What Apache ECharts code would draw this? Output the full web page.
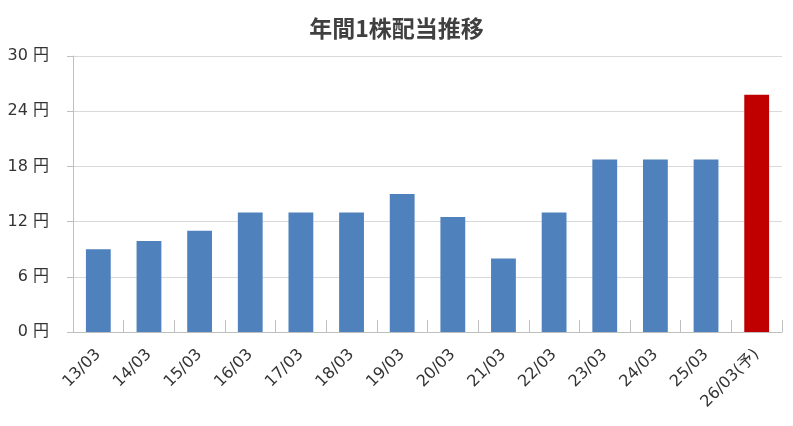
<!DOCTYPE html>
<html><head><meta charset="utf-8">
<script src="https://cdn.jsdelivr.net/npm/echarts@6/dist/echarts.min.js"></script>
<style>html,body{margin:0;padding:0;background:#fff}#c{width:793px;height:426px}</style>
</head><body><div id="c"></div>
<script>
var titleText = '年間1株配当推移';
var categories = ['13/03','14/03','15/03','16/03','17/03','18/03','19/03','20/03','21/03','22/03','23/03','24/03','25/03','26/03(予)'];
var dividends = [9, 9.9, 11, 13, 13, 13, 15, 12.5, 8, 13, 18.75, 18.75, 18.75, 25.8];
var forecastIndex = [13];
var yTicks = [0, 6, 12, 18, 24, 30];

var chart = echarts.init(document.getElementById('c'), null, {renderer:'canvas'});
var font = '"DejaVu Sans","Noto Sans CJK JP",sans-serif';
chart.setOption({
  animation:false,
  title:{text:titleText,left:'center',top:12,textStyle:{fontFamily:'"Noto Sans CJK JP",sans-serif',fontSize:23,fontWeight:'bold',color:'#404040'}},
  grid:{left:73,right:11,top:56,bottom:94,containLabel:false},
  xAxis:{type:'category',data:categories,
    axisLine:{lineStyle:{color:'#bfbfbf',width:1}},
    axisTick:{show:true,inside:true,length:12,alignWithLabel:false,lineStyle:{color:'#bfbfbf'}},
    axisLabel:{rotate:45,fontFamily:font,fontSize:16,color:'#333',margin:20,interval:0}},
  yAxis:{type:'value',min:yTicks[0],max:yTicks[yTicks.length-1],interval:6,
    axisLine:{show:true,lineStyle:{color:'#bfbfbf'}},
    axisTick:{show:true,length:6,lineStyle:{color:'#bfbfbf'}},
    splitLine:{lineStyle:{color:'#d9d9d9'}},
    axisLabel:{formatter:function(v){return v+' 円';},fontFamily:font,fontSize:16,color:'#333',margin:24}},
  series:[{type:'bar',barWidth:'49%',
    data:dividends.map(function(v,i){return {value:v,itemStyle:{color:forecastIndex.indexOf(i)>=0?'#c00000':'#4f81bd'}};})}]
});
</script></body></html>
